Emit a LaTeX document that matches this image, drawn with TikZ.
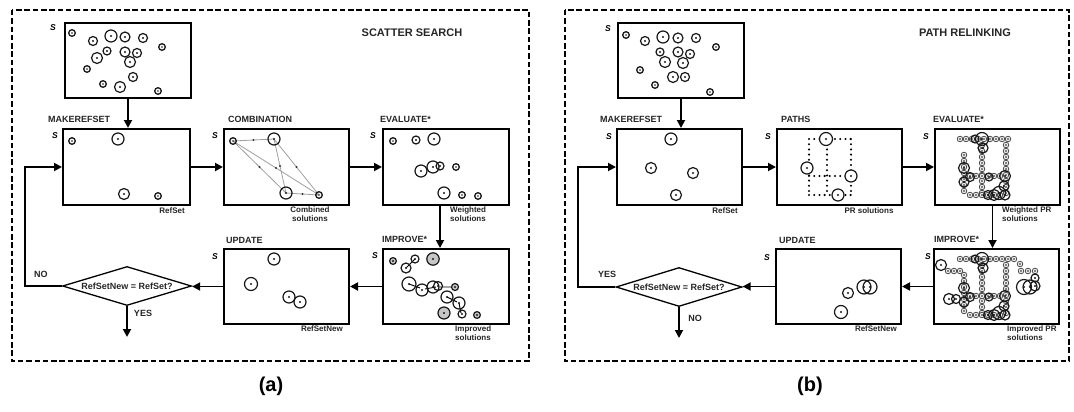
\documentclass[tikz,border=0pt]{standalone}
\usepackage{fontspec}
\setmainfont{Liberation Sans}
\usetikzlibrary{arrows.meta,shapes.geometric,calc}
\newcommand\lblfont{\fontsize{9}{10}\selectfont\bfseries}
\newcommand\capfont{\fontsize{8}{9}\selectfont\bfseries}
\newcommand\ttlfont{\fontsize{11}{13}\selectfont\bfseries}
\newcommand\diafont{\fontsize{9}{10}\selectfont\bfseries}
\newcommand\slfont{\fontsize{8.5}{10}\selectfont\bfseries\itshape}
\newcommand\solu[3]{\draw[solc] (#1,#2) circle[radius=#3pt]; \fill[black!90] (#1,#2) circle[radius=1.05pt];}
\newcommand\gsolu[3]{\draw[solc,fill=gray!45] (#1,#2) circle[radius=#3pt]; \fill[black!90] (#1,#2) circle[radius=1.05pt];}
\newcommand\dsolu[2]{\draw[solc, line width=1.3pt] (#1,#2) circle[radius=3.3pt]; \fill[black!90] (#1,#2) circle[radius=0.95pt];}
\newcommand\ssolu[2]{\draw[line width=0.75pt,draw=black!75,fill=gray!15] (#1,#2) circle[radius=2.8pt]; \fill[black!90] (#1,#2) circle[radius=0.8pt];}
\begin{document}
\begin{tikzpicture}[x=1pt,y=-1pt,
  pframe/.style={line width=2.6pt, dash pattern=on 5.5pt off 2.8pt},
  box/.style={draw, line width=2pt, rectangle, anchor=north west, inner sep=0pt},
  arr/.style={line width=1.8pt, -{Triangle[length=8pt,width=8pt]}},
  dia/.style={draw, diamond, aspect=3.3, line width=1.3pt, inner sep=0pt, font=\diafont, text=black!85},
  lab/.style={font=\lblfont, anchor=base west, inner sep=0pt, text=black!85},
  capt/.style={font=\capfont, inner sep=0pt, text=black!85},
  sl/.style={font=\slfont, inner sep=0pt},
  ttl/.style={font=\ttlfont, inner sep=0pt, text=black!85},
  solc/.style={line width=1.2pt, draw=black!90},
  gl/.style={draw=gray!75, line width=0.8pt},
  dotln/.style={line width=2.3pt, dash pattern=on 0pt off 5.2pt, line cap=round},
  imparr/.style={line width=0.9pt, draw=black}
]
\fill[white] (0,0) rectangle (1074,412);
\useasboundingbox (0,0) rectangle (1074,412);

% ================= LEFT PANEL =================
\draw[pframe] (12,10) rectangle (529,361);
\node[ttl] (ttlL) at (412,33) {SCATTER SEARCH};

\node[box, minimum width=126pt, minimum height=75pt] (topL) at (64,22) {};
\node[box, minimum width=127pt, minimum height=76pt] (refL) at (62,128) {};
\node[box, minimum width=125pt, minimum height=76pt] (combL) at (223,128) {};
\node[box, minimum width=126pt, minimum height=76pt] (evalL) at (382,128) {};
\node[box, minimum width=125pt, minimum height=75pt] (updL) at (223,248) {};
\node[box, minimum width=126pt, minimum height=75pt] (impL) at (382,248) {};
\node[dia, minimum width=129pt, minimum height=39pt] (diaL) at (127,286) {RefSetNew = RefSet?};

\node[lab] (lmkL) at (48,122) {MAKEREFSET};
\node[lab] (lcbL) at (228,122) {COMBINATION};
\node[lab] (levL) at (380,122) {EVALUATE*};
\node[lab] (lupL) at (226,243) {UPDATE};
\node[lab] (limL) at (382,242) {IMPROVE*};

\node[capt, anchor=base east] (crsL) at (185,213) {RefSet};
\node[capt, anchor=north, align=center] (ccbL) at (310,206.5) {Combined\\solutions};
\node[capt, anchor=north west, align=left] (cevL) at (450,206.5) {Weighted\\solutions};
\node[capt, anchor=base east] (crnL) at (343,331) {RefSetNew};
\node[capt, anchor=north west, align=left] (cimL) at (455,326) {Improved\\solutions};

\node[lab, anchor=center] (noL) at (41,274) {NO};
\node[lab, anchor=center] (yesL) at (143,313) {YES};

\node[sl] (s1L) at (53,28) {S};
\node[sl] (s2L) at (55,136) {S};
\node[sl] (s3L) at (215,136) {S};
\node[sl] (s4L) at (373,136) {S};
\node[sl] (s5L) at (215,257) {S};
\node[sl] (s6L) at (375,256) {S};

\draw[arr] (topL.south) -- (topL.south |- refL.north);
\draw[arr] (refL.east) -- (refL.east -| combL.west);
\draw[arr] (combL.east) -- (combL.east -| evalL.west);
\draw[arr] ([xshift=-6pt]evalL.south) -- ([xshift=-6pt]evalL.south |- impL.north);
\draw[arr] (impL.west) -- (impL.west -| updL.east);
\draw[arr] (updL.west) -- (updL.west -| diaL.east);
\coordinate (lpL) at (25,286);
\draw[arr] (diaL.west) -- (lpL) |- (refL.west);
\coordinate (endL) at (127,337);
\draw[arr] (diaL.south) -- (endL);

% top box contents
\foreach \x/\y in {72/33,162/47,87/69,103/84,158/91} {\dsolu{\x}{\y}}
\foreach \x/\y/\r in {93/41/4.5,111/36/6,125/37/5,143/38/4.5,107/51/4,125/52/5,137/53/4.5,97/58/5.5,130/62/5.5,133/77/4.5,120/87/5.5} {\solu{\x}{\y}{\r}}
% refset
\dsolu{72}{141}\dsolu{158}{196}
\solu{118}{139}{6}\solu{124}{194}{5.5}
% combination
\draw[gl] (233,141) -- (274,139) (233,141) -- (286,193) (233,141) -- (319,195)
  (274,139) -- (286,193) (274,139) -- (319,195) (286,193) -- (319,195);
\foreach \x/\y in {253.5/140,259.5/167,276/168,280/166,296.5/167,302.5/194} {\fill[black!80] (\x,\y) circle[radius=1.1pt];}
\dsolu{233}{141}\solu{274}{139}{6}\solu{286}{193}{6}\dsolu{319}{195}
% evaluate
\dsolu{393}{141}\dsolu{478}{196}\dsolu{456}{167}\dsolu{462}{195}
\foreach \x/\y/\r in {416/140/4,434/139/6,421/171/6,433/167/6,440/166/4,444/193/6} {\solu{\x}{\y}{\r}}
% update
\foreach \x/\y/\r in {274/259/6,251/284/6.5,289/297/6,300/302/6} {\solu{\x}{\y}{\r}}
% improve
\draw[imparr] (406,268) -- (415,259) (409,284) -- (420,288) (425,289) -- (436,287) (440,287) -- (453,287) (447,297) -- (457,302) (459,303) -- (461,313);
\foreach \x/\y/\r in {393/261/3.4,433/259/6.2,455/287/3.5,444/313/6,477/315/3.4} {\gsolu{\x}{\y}{\r}}
\foreach \x/\y/\r in {415/259/4,406/268/5,409/284/7,422/290/6,433/287/6,438/286/4.5,447/297/6,459/303/6,462/314/4} {\solu{\x}{\y}{\r}}

% ================= RIGHT PANEL =================
\draw[pframe] (565,10) rectangle (1069,361);
\node[ttl] (ttlR) at (965,33) {PATH RELINKING};

\node[box, minimum width=126pt, minimum height=75pt] (topR) at (617,22) {};
\node[box, minimum width=125pt, minimum height=76pt] (refR) at (616,128) {};
\node[box, minimum width=125pt, minimum height=76pt] (pathR) at (776,128) {};
\node[box, minimum width=125pt, minimum height=76pt] (evalR) at (934,128) {};
\node[box, minimum width=125pt, minimum height=75pt] (updR) at (775,248) {};
\node[box, minimum width=125pt, minimum height=75pt] (impR) at (933,248) {};
\node[dia, minimum width=126pt, minimum height=39pt] (diaR) at (679,287) {RefSetNew = RefSet?};

\node[lab] (lmkR) at (600,122) {MAKEREFSET};
\node[lab] (lpaR) at (781,122) {PATHS};
\node[lab] (levR) at (933,122) {EVALUATE*};
\node[lab] (lupR) at (779,243) {UPDATE};
\node[lab] (limR) at (934,242) {IMPROVE*};

\node[capt, anchor=base east] (crsR) at (738,213) {RefSet};
\node[capt, anchor=base] (cpaR) at (869,213) {PR solutions};
\node[capt, anchor=north west, align=left] (cevR) at (1002,206.5) {Weighted PR\\solutions};
\node[capt, anchor=base east] (crnR) at (897,331) {RefSetNew};
\node[capt, anchor=north west, align=left] (cimR) at (1007,326) {Improved PR\\solutions};

\node[lab, anchor=center] (yesR) at (607,274) {YES};
\node[lab, anchor=center] (noR) at (695,318) {NO};

\node[sl] (s1R) at (608,29) {S};
\node[sl] (s2R) at (609,137) {S};
\node[sl] (s3R) at (768,137) {S};
\node[sl] (s4R) at (926,137) {S};
\node[sl] (s5R) at (767,258) {S};
\node[sl] (s6R) at (928,257) {S};

\draw[arr] (topR.south) -- (topR.south |- refR.north);
\draw[arr] (refR.east) -- (refR.east -| pathR.west);
\draw[arr] (pathR.east) -- (pathR.east -| evalR.west);
\draw[arr] ([xshift=-5pt]evalR.south) -- ([xshift=-5pt]evalR.south |- impR.north);
\draw[arr] (impR.west) -- (impR.west -| updR.east);
\draw[arr] (updR.west) -- (updR.west -| diaR.east);
\coordinate (lpR) at (578,287);
\draw[arr] (diaR.west) -- (lpR) |- (refR.west);
\coordinate (endR) at (679,338);
\draw[arr] (diaR.south) -- (endR);

% top box contents
\foreach \x/\y in {626/35,716/47,640/70,655/85,710/92} {\dsolu{\x}{\y}}
\foreach \x/\y/\r in {645/41/4.5,663/37/6,678/38/5,696/38/4.5,660/52/4,678/52/5,690/54/4.5,665/62/5.5,683/63/5.5,673/77/5.5,685/77/4.5} {\solu{\x}{\y}{\r}}
% refset
\foreach \x/\y/\r in {671/139/6,651/168/5.5,693/173/5.5,676/195/5.5} {\solu{\x}{\y}{\r}}
% paths
\draw[dotln] (809,139) -- (851,139) (809,176) -- (851,176) (809,195) -- (851,195)
  (809,139) -- (809,195) (827,139) -- (827,195) (851,139) -- (851,195);
\foreach \x/\y/\r in {826/139/6.5,807/168/6,851/176/6,838/195/6} {\draw[solc, fill=white] (\x,\y) circle[radius=\r pt]; \fill[black!90] (\x,\y) circle[radius=1.05pt];}
% evaluate and improve clusters
\foreach \dy in {0,120} {
  \foreach \x in {960,966,...,1008} {\ssolu{\x}{139+\dy}}
  \foreach \y in {155,161,...,195} {\ssolu{964}{\y+\dy}}
  \foreach \y in {145,151,...,195} {\ssolu{982}{\y+\dy}\ssolu{1006}{\y+\dy}}
  \foreach \x in {970,976,...,1000} {\ssolu{\x}{176+\dy}\ssolu{\x}{195+\dy}}
  \foreach \x/\y/\r in {982/139/6.5,983/148/5,975/139/4,964/168/5.5,964/182/5,970/177/4.5,1005/176/5.5,1004/186/5,994/195/5.5,999/193/6.5,1005/195/5,988/195/4.5,989/177/4} {\solu{\x}{\y+\dy}{\r}}
}
% improve extras
\foreach \x/\y in {948/271,954/271,960/271,1014/259,1020/264,1021/271,1028/271,1035/271} {\ssolu{\x}{\y}}
\foreach \x/\y/\r in {941/265/5.5,1024/287/7.5,1030/287/7,1035/286/5,1035/278/4,949/299/5.5,956/299/4.5} {\solu{\x}{\y}{\r}}
% update
\foreach \x/\y/\r in {848/293/5.5,841/312/6.5,864/287/7,870/287/7} {\solu{\x}{\y}{\r}}

% ================= CAPTIONS =================
\node[font=\fontsize{20}{22}\selectfont\bfseries, inner sep=0pt] (capa) at (271,386) {(a)};
\node[font=\fontsize{20}{22}\selectfont\bfseries, inner sep=0pt] (capb) at (810,386) {(b)};
\end{tikzpicture}
\end{document}
